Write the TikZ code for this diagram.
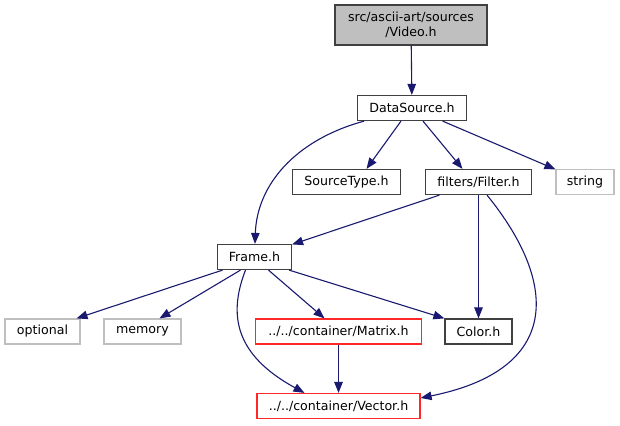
\documentclass[tikz,border=0pt]{standalone}
\usepackage{fontspec}
\setmainfont{DejaVu Sans}
\usetikzlibrary{arrows.meta}

\definecolor{edgeblue}{RGB}{25,25,112}
\definecolor{sysgray}{RGB}{191,191,191}
\definecolor{missred}{RGB}{255,40,40}

\begin{document}
\begin{tikzpicture}[x=1pt, y=-1pt,
    file/.style={draw=black!75, line width=1.2pt, minimum height=25pt, inner sep=0pt,
        font=\fontsize{12.6}{15}\selectfont},
    sysfile/.style={file, draw=sysgray},
    redfile/.style={file, draw=missred},
    dep/.style={draw=edgeblue, line width=1.1pt, -{Triangle[length=11pt, width=8.5pt]}}]
    \useasboundingbox (0,0) rectangle (620,425);

    % Files
    \node[file, fill=black!25, minimum width=152pt, minimum height=40pt, align=center] (video) at (411,25) {src/ascii-art/sources\\/Video.h};
    \node[file, minimum width=109pt] (ds) at (412,108) {DataSource.h};
    \node[file, minimum width=108pt] (stype) at (346.5,182) {SourceType.h};
    \node[file, minimum width=106pt] (filter) at (478.5,182) {filters/Filter.h};
    \node[sysfile, minimum width=58pt] (str) at (585,182) {string};
    \node[file, minimum width=74pt] (frame) at (254.5,257) {Frame.h};
    \node[sysfile, minimum width=75pt] (opt) at (42.5,331.5) {optional};
    \node[sysfile, minimum width=77pt] (mem) at (142.5,331.5) {memory};
    \node[redfile, minimum width=166pt] (mtx) at (338.5,331.5) {../../container/Matrix.h};
    \node[file, minimum width=67pt] (colorh) at (478.5,331.5) {Color.h};
    \node[redfile, minimum width=163pt] (vec) at (338.5,406) {../../container/Vector.h};

    % Includes
    \draw[dep] (video) -- (ds);
    \draw[dep] (ds) .. controls (295,140) and (257,185) .. (frame);
    \draw[dep] ([xshift=-11pt]ds.south) -- ([xshift=20pt]stype.north);
    \draw[dep] ([xshift=11pt]ds.south) -- ([xshift=-16pt]filter.north);
    \draw[dep] (ds) -- (str);
    \draw[dep] (filter) -- (frame);
    \draw[dep] (filter) -- (colorh);
    \draw[dep] ([xshift=8.5pt]filter.south) .. controls (560,285) and (560,370) .. ([yshift=8pt]vec.east);
    \draw[dep] ([xshift=-32pt]frame.south) -- ([xshift=34pt]opt.north);
    \draw[dep] ([xshift=-14pt]frame.south) -- ([xshift=17pt]mem.north);
    \draw[dep] ([xshift=-9pt]frame.south) .. controls (228,315) and (235,355) .. ([xshift=-34pt]vec.north);
    \draw[dep] ([xshift=14pt]frame.south) -- ([xshift=-14pt]mtx.north);
    \draw[dep] ([xshift=-3pt]frame.south east) -- (colorh.north west);
    \draw[dep] (mtx) -- (vec);
\end{tikzpicture}
\end{document}
